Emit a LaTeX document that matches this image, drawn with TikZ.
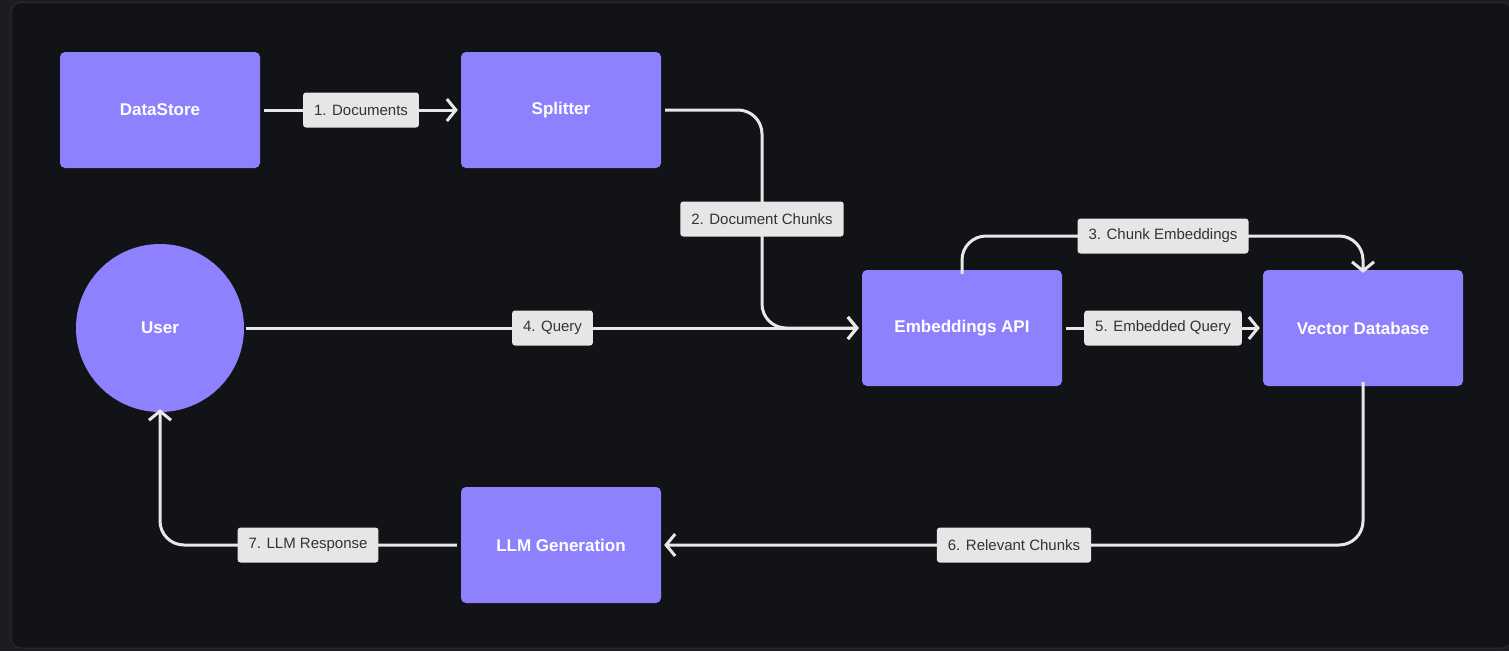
\documentclass[tikz,border=0pt]{standalone}
\usepackage{fontspec}
\setmainfont{Liberation Sans}
\usetikzlibrary{arrows.meta}
\definecolor{outerbg}{HTML}{1C1D20}
\definecolor{panelbg}{HTML}{121316}
\definecolor{panelline}{HTML}{2A2B2E}
\definecolor{nodefill}{HTML}{8E81FD}
\definecolor{lblfill}{HTML}{E6E6E6}
\definecolor{lbltext}{HTML}{333333}
\definecolor{wire}{HTML}{E8E8E8}
\tikzset{
  box/.style={rectangle, rounded corners=5pt, fill=nodefill, minimum width=200pt, minimum height=116pt, text=white, font=\fontsize{17}{20}\selectfont\bfseries},
  roundbox/.style={circle, fill=nodefill, minimum size=168pt, inner sep=0pt, text=white, font=\fontsize{17}{20}\selectfont\bfseries},
  lbl/.style={rectangle, rounded corners=3pt, fill=lblfill, text=lbltext, minimum height=35pt, inner xsep=11pt, inner ysep=0pt, font=\fontsize{15}{18}\selectfont},
  conn/.style={draw=wire, line width=3pt, rounded corners=24pt, -{Straight Barb[length=9pt,width=22pt,line width=3pt]}}
}
\begin{document}
\begin{tikzpicture}[x=1pt,y=-1pt]
\useasboundingbox (0,0) rectangle (1509,651);
\fill[outerbg] (0,0) rectangle (1509,651);
\path[fill=panelbg, draw=panelline, line width=1pt, rounded corners=10pt] (11,2.5) rectangle (1512,648);

\node[box] (ds) at (160,110) {\raisebox{-1pt}{DataStore}};
\node[box] (sp) at (561,110) {\raisebox{-1pt}{Splitter}};
\node[roundbox] (user) at (160,328) {\raisebox{-1pt}{User}};
\node[box] (emb) at (962,328) {\raisebox{-1pt}{Embeddings API}};
\node[box] (vdb) at (1363,328) {\raisebox{-1pt}{Vector Database}};
\node[box] (llm) at (561,545) {\raisebox{-1pt}{LLM Generation}};

\draw[conn] ([xshift=4pt]ds.east) -- node[lbl]{1. Documents} ([xshift=-3pt]sp.west);
\draw[conn] ([xshift=4pt]sp.east) -| (762,219) node[lbl]{2. Document Chunks} |- ([xshift=-3pt]emb.west);
\draw[conn] ([yshift=-4pt]emb.north) |- (1163,236) node[lbl]{3. Chunk Embeddings} -| ([yshift=-3pt]vdb.north);
\draw[conn] ([xshift=2pt]user.east) -- node[lbl]{4. Query} ([xshift=-3pt]emb.west);
\draw[conn] ([xshift=4pt]emb.east) -- node[lbl]{5. Embedded Query} ([xshift=-3pt]vdb.west);
\draw[conn] ([yshift=4pt]vdb.south) |- (1014,545) node[lbl]{6. Relevant Chunks} -- ([xshift=3pt]llm.east);
\draw[conn] ([xshift=-4pt]llm.west) -- (308,545) node[lbl]{7. LLM Response} -| ([yshift=3pt]user.south);
\end{tikzpicture}
\end{document}
